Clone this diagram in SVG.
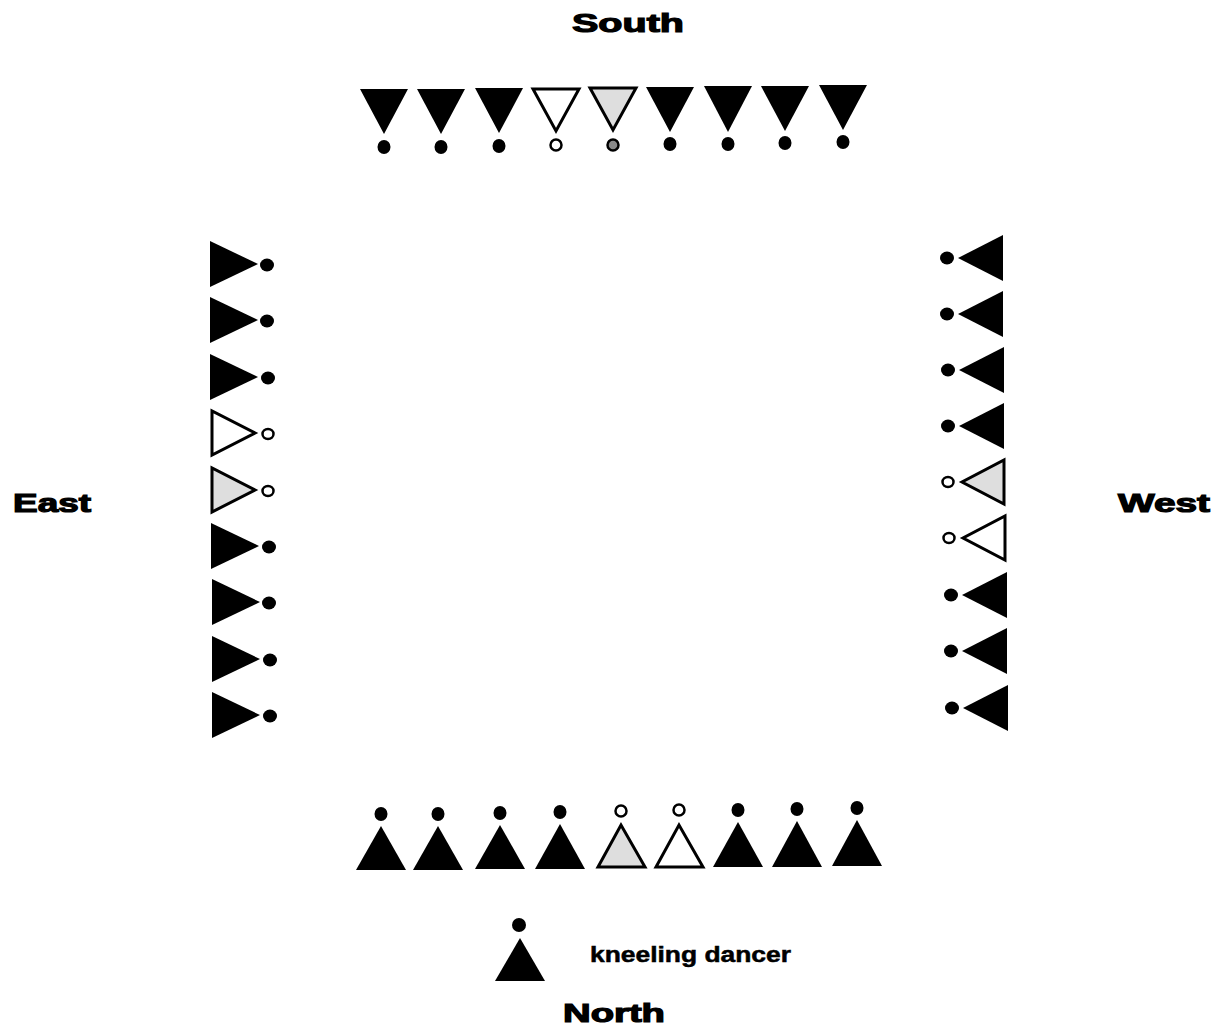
<svg xmlns="http://www.w3.org/2000/svg" width="1222" height="1028" viewBox="0 0 1222 1028">
<style>
.bg{fill:#fff}
.solid{fill:#000}
.open{fill:#fff;stroke:#000;stroke-width:3;stroke-linejoin:miter}
.shaded{fill:#dedede;stroke:#000;stroke-width:3;stroke-linejoin:miter}
.head{fill:#000}
.ring{fill:#fff;stroke:#000;stroke-width:2.5}
.ringd{fill:#888;stroke:#000;stroke-width:2.5}
.dir{font-family:"Liberation Sans",Arial,sans-serif;font-weight:bold;font-size:26px;fill:#000;stroke:#000;stroke-width:1.2}
.leg{font-family:"Liberation Sans",Arial,sans-serif;font-weight:bold;font-size:22px;fill:#000;stroke:#000;stroke-width:0.5}
</style>
<rect class="bg" x="0" y="0" width="1222" height="1028"/>
<g id="labels">
<text class="dir" x="572" y="32" textLength="112" lengthAdjust="spacingAndGlyphs">South</text>
<text class="dir" x="13" y="512" textLength="78" lengthAdjust="spacingAndGlyphs">East</text>
<text class="dir" x="1118" y="512" textLength="92" lengthAdjust="spacingAndGlyphs">West</text>
<text class="dir" x="563" y="1022" textLength="102" lengthAdjust="spacingAndGlyphs">North</text>
</g>
<g id="south-row">
<g id="s1"><polygon class="solid" points="360,89 408,89 384,134"/><ellipse class="head" cx="384" cy="147" rx="6.5" ry="7"/></g>
<g id="s2"><polygon class="solid" points="417,89 465,89 441,134"/><ellipse class="head" cx="441" cy="147" rx="6.5" ry="7"/></g>
<g id="s3"><polygon class="solid" points="475,88 523,88 499,133"/><ellipse class="head" cx="499" cy="146" rx="6.5" ry="7"/></g>
<g id="s4"><polygon class="open" points="533,89 579,89 556,131"/><circle class="ring" cx="556" cy="145" r="5.5"/></g>
<g id="s5"><polygon class="shaded" points="590,88 636,88 613,130"/><circle class="ringd" cx="613" cy="145" r="5.5"/></g>
<g id="s6"><polygon class="solid" points="646,87 694,87 670,132"/><ellipse class="head" cx="670" cy="144" rx="6.5" ry="7"/></g>
<g id="s7"><polygon class="solid" points="704,86 752,86 728,132"/><ellipse class="head" cx="728" cy="144" rx="6.5" ry="7"/></g>
<g id="s8"><polygon class="solid" points="761,86 809,86 785,131"/><ellipse class="head" cx="785" cy="143" rx="6.5" ry="7"/></g>
<g id="s9"><polygon class="solid" points="819,85 867,85 843,130"/><ellipse class="head" cx="843" cy="142" rx="6.5" ry="7"/></g>
</g>
<g id="east-col">
<g id="e1"><polygon class="solid" points="210,241 210,287 258,264"/><ellipse class="head" cx="267" cy="265" rx="7" ry="6.5"/></g>
<g id="e2"><polygon class="solid" points="210,297 210,343 258,320"/><ellipse class="head" cx="267" cy="321" rx="7" ry="6.5"/></g>
<g id="e3"><polygon class="solid" points="210,354 210,400 258,377"/><ellipse class="head" cx="268" cy="378" rx="7" ry="6.5"/></g>
<g id="e4"><polygon class="open" points="212,411 212,455 255,433"/><ellipse class="ring" cx="268" cy="434" rx="5.5" ry="5"/></g>
<g id="e5"><polygon class="shaded" points="212,468 212,512 255,490"/><ellipse class="ring" cx="268" cy="491" rx="5.5" ry="5"/></g>
<g id="e6"><polygon class="solid" points="211,523 211,569 259,546"/><ellipse class="head" cx="269" cy="547" rx="7" ry="6.5"/></g>
<g id="e7"><polygon class="solid" points="212,579 212,625 260,602"/><ellipse class="head" cx="269" cy="603" rx="7" ry="6.5"/></g>
<g id="e8"><polygon class="solid" points="212,636 212,682 260,659"/><ellipse class="head" cx="270" cy="660" rx="7" ry="6.5"/></g>
<g id="e9"><polygon class="solid" points="212,692 212,738 260,715"/><ellipse class="head" cx="270" cy="716" rx="7" ry="6.5"/></g>
</g>
<g id="west-col">
<g id="w1"><polygon class="solid" points="1003,235 1003,281 958,258"/><ellipse class="head" cx="947" cy="258" rx="7" ry="6.5"/></g>
<g id="w2"><polygon class="solid" points="1003,291 1003,337 958,314"/><ellipse class="head" cx="947" cy="314" rx="7" ry="6.5"/></g>
<g id="w3"><polygon class="solid" points="1004,347 1004,393 959,370"/><ellipse class="head" cx="948" cy="370" rx="7" ry="6.5"/></g>
<g id="w4"><polygon class="solid" points="1004,403 1004,449 959,426"/><ellipse class="head" cx="948" cy="426" rx="7" ry="6.5"/></g>
<g id="w5"><polygon class="shaded" points="1004,460 1004,504 962,482"/><ellipse class="ring" cx="948" cy="482" rx="5.5" ry="5"/></g>
<g id="w6"><polygon class="open" points="1005,516 1005,560 963,538"/><ellipse class="ring" cx="949" cy="538" rx="5.5" ry="5"/></g>
<g id="w7"><polygon class="solid" points="1007,572 1007,618 962,595"/><ellipse class="head" cx="951" cy="595" rx="7" ry="6.5"/></g>
<g id="w8"><polygon class="solid" points="1007,628 1007,674 962,651"/><ellipse class="head" cx="951" cy="651" rx="7" ry="6.5"/></g>
<g id="w9"><polygon class="solid" points="1008,685 1008,731 963,708"/><ellipse class="head" cx="952" cy="708" rx="7" ry="6.5"/></g>
</g>
<g id="north-row">
<g id="n1"><polygon class="solid" points="356,870 406,870 381,826"/><ellipse class="head" cx="381" cy="814" rx="6.5" ry="7"/></g>
<g id="n2"><polygon class="solid" points="413,870 463,870 438,826"/><ellipse class="head" cx="438" cy="814" rx="6.5" ry="7"/></g>
<g id="n3"><polygon class="solid" points="475,869 525,869 500,825"/><ellipse class="head" cx="500" cy="813" rx="6.5" ry="7"/></g>
<g id="n4"><polygon class="solid" points="535,869 585,869 560,824"/><ellipse class="head" cx="560" cy="812" rx="6.5" ry="7"/></g>
<g id="n5"><polygon class="shaded" points="598,867 645,867 621,825"/><circle class="ring" cx="621" cy="811" r="5.5"/></g>
<g id="n6"><polygon class="open" points="656,867 703,867 679,825"/><circle class="ring" cx="679" cy="810" r="5.5"/></g>
<g id="n7"><polygon class="solid" points="713,867 763,867 738,822"/><ellipse class="head" cx="738" cy="810" rx="6.5" ry="7"/></g>
<g id="n8"><polygon class="solid" points="772,867 822,867 797,821"/><ellipse class="head" cx="797" cy="809" rx="6.5" ry="7"/></g>
<g id="n9"><polygon class="solid" points="832,866 882,866 857,820"/><ellipse class="head" cx="857" cy="808" rx="6.5" ry="7"/></g>
</g>
<g id="legend">
<polygon class="solid" points="495,981 545,981 520,938"/><circle class="head" cx="519" cy="925" r="7"/>
<text class="leg" x="590" y="962" textLength="201" lengthAdjust="spacingAndGlyphs">kneeling dancer</text>
</g>
<g id="connectors"/>
</svg>
